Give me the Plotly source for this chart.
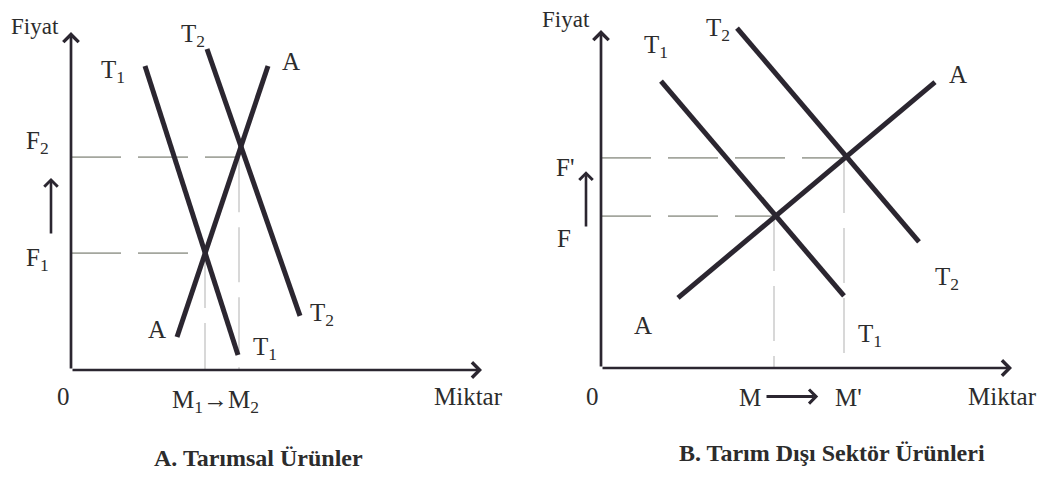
import plotly.graph_objects as go

# ---------------- Panel A: Tarımsal Ürünler ----------------
a_t1_q = [1.85, 4.175]
a_t1_p = [8.94, 0.44]
a_t2_q = [3.40, 5.725]
a_t2_p = [9.44, 1.59]
a_s_q = [2.65, 4.925]
a_s_p = [0.97, 8.94]
a_price = [3.44, 6.26]      # F1, F2
a_qty = [3.35, 4.20]        # M1, M2
a_axis_end = [10.275, 9.94]  # Miktar, Fiyat

# ---------------- Panel B: Tarım Dışı Sektör Ürünleri ----------------
b_t1_q = [1.50, 6.075]
b_t1_p = [8.44, 2.12]
b_t2_q = [3.40, 7.95]
b_t2_p = [10.0, 3.71]
b_s_q = [1.925, 8.35]
b_s_p = [2.06, 8.41]
b_price = [4.47, 6.18]      # F, F'
b_qty = [4.325, 6.075]      # M, M'
b_axis_end = [10.275, 9.94]

LINE = "#2b2630"
TXT = "#2c2c2c"
HDASH = "#a4a69e"
VDASH = "#c4c4c4"
FONT = "Liberation Serif"

fig = go.Figure()


def curves(xr, yr, sets):
    for q, p in sets:
        fig.add_trace(go.Scatter(x=q, y=p, mode="lines", xaxis=xr, yaxis=yr,
                                 line=dict(color=LINE, width=5), hoverinfo="skip"))


def guides(xr, yr, qty, price):
    for q, p in zip(qty, price):
        fig.add_trace(go.Scatter(x=[0, q], y=[p, p], mode="lines", xaxis=xr, yaxis=yr,
                                 line=dict(color=HDASH, width=1.7, dash="50px,17px"),
                                 hoverinfo="skip"))
        fig.add_trace(go.Scatter(x=[q, q], y=[p, 0], mode="lines", xaxis=xr, yaxis=yr,
                                 line=dict(color=VDASH, width=1.3, dash="55px,15px"),
                                 hoverinfo="skip"))


guides("x", "y", a_qty, a_price)
guides("x2", "y2", b_qty, b_price)
curves("x", "y", [(a_t1_q, a_t1_p), (a_t2_q, a_t2_p), (a_s_q, a_s_p)])
curves("x2", "y2", [(b_t1_q, b_t1_p), (b_t2_q, b_t2_p), (b_s_q, b_s_p)])

ann = []


def arrow(xr, yr, x0, y0, x1, y1, w=2.7, size=1.1):
    ann.append(dict(x=x1, y=y1, ax=x0, ay=y0, xref=xr, yref=yr, axref=xr, ayref=yr,
                    text="", showarrow=True, arrowhead=4, arrowsize=size,
                    arrowwidth=w, arrowcolor=LINE, standoff=0))


def label(xr, yr, x, y, t, size=25, bold=False):
    if bold:
        t = "<b>" + t + "</b>"
    ann.append(dict(x=x, y=y, xref=xr, yref=yr, text=t, showarrow=False,
                    font=dict(family=FONT, size=size, color=TXT)))


# axes
arrow("x", "y", 0, 0, a_axis_end[0], 0)
arrow("x", "y", 0, 0, 0, a_axis_end[1])
arrow("x2", "y2", 0, 0, b_axis_end[0], 0)
arrow("x2", "y2", 0, 0, 0, b_axis_end[1])

# price rise arrows
arrow("x", "y", -0.5, 3.97, -0.5, 5.65, w=2.6, size=1.0)
arrow("x2", "y2", -0.375, 4.12, -0.375, 5.79, w=2.6, size=1.0)
# quantity shift arrow (panel B)
arrow("x2", "y2", 4.1, -0.84, 5.43, -0.84, w=3, size=0.9)

# Panel A labels
label("x", "y", -0.9, 10.09, "Fiyat", 23)
label("x", "y", 3.05, 9.85, "T<sub>2</sub>")
label("x", "y", 1.05, 8.78, "T<sub>1</sub>")
label("x", "y", 5.5, 9.06, "A")
label("x", "y", -0.85, 6.70, "F<sub>2</sub>")
label("x", "y", -0.85, 3.25, "F<sub>1</sub>")
label("x", "y", 2.15, 1.18, "A")
label("x", "y", 4.85, 0.62, "T<sub>1</sub>")
label("x", "y", 6.275, 1.62, "T<sub>2</sub>")
label("x", "y", -0.2, -0.79, "0")
label("x", "y", 3.6, -0.92, "M<sub>1</sub><b>→</b>M<sub>2</sub>")
label("x", "y", 9.925, -0.79, "Miktar")
label("x", "y", 4.675, -2.6, "A. Tarımsal Ürünler", 24, True)

# Panel B labels
label("x2", "y2", -0.875, 10.24, "Fiyat", 23)
label("x2", "y2", 1.375, 9.45, "T<sub>1</sub>")
label("x2", "y2", 2.925, 9.95, "T<sub>2</sub>")
label("x2", "y2", 8.925, 8.62, "A")
label("x2", "y2", -0.9, 5.91, "F'")
label("x2", "y2", -0.925, 3.82, "F")
label("x2", "y2", 1.05, 1.24, "A")
label("x2", "y2", 8.65, 2.62, "T<sub>2</sub>")
label("x2", "y2", 6.725, 0.97, "T<sub>1</sub>")
label("x2", "y2", -0.225, -0.85, "0")
label("x2", "y2", 3.725, -0.88, "M")
label("x2", "y2", 6.175, -0.88, "M'")
label("x2", "y2", 10.025, -0.85, "Miktar")
label("x2", "y2", 5.775, -2.5, "B. Tarım Dışı Sektör Ürünleri", 24, True)

ax_common = dict(visible=False, fixedrange=True)
fig.update_layout(
    width=1040, height=482,
    margin=dict(l=0, r=0, t=0, b=0),
    paper_bgcolor="white", plot_bgcolor="white",
    showlegend=False,
    xaxis=dict(domain=[0, 0.5], range=[-1.775, 11.225], **ax_common),
    yaxis=dict(domain=[0, 1], range=[-3.294, 10.882], **ax_common),
    xaxis2=dict(domain=[0.5, 1], range=[-2.025, 10.975], anchor="y2", **ax_common),
    yaxis2=dict(domain=[0, 1], range=[-3.353, 10.824], anchor="x2", **ax_common),
    annotations=ann,
)

fig.write_html("out.html", config={"displayModeBar": False},
               post_script="document.body.style.margin='0';document.body.style.overflow='hidden';")
